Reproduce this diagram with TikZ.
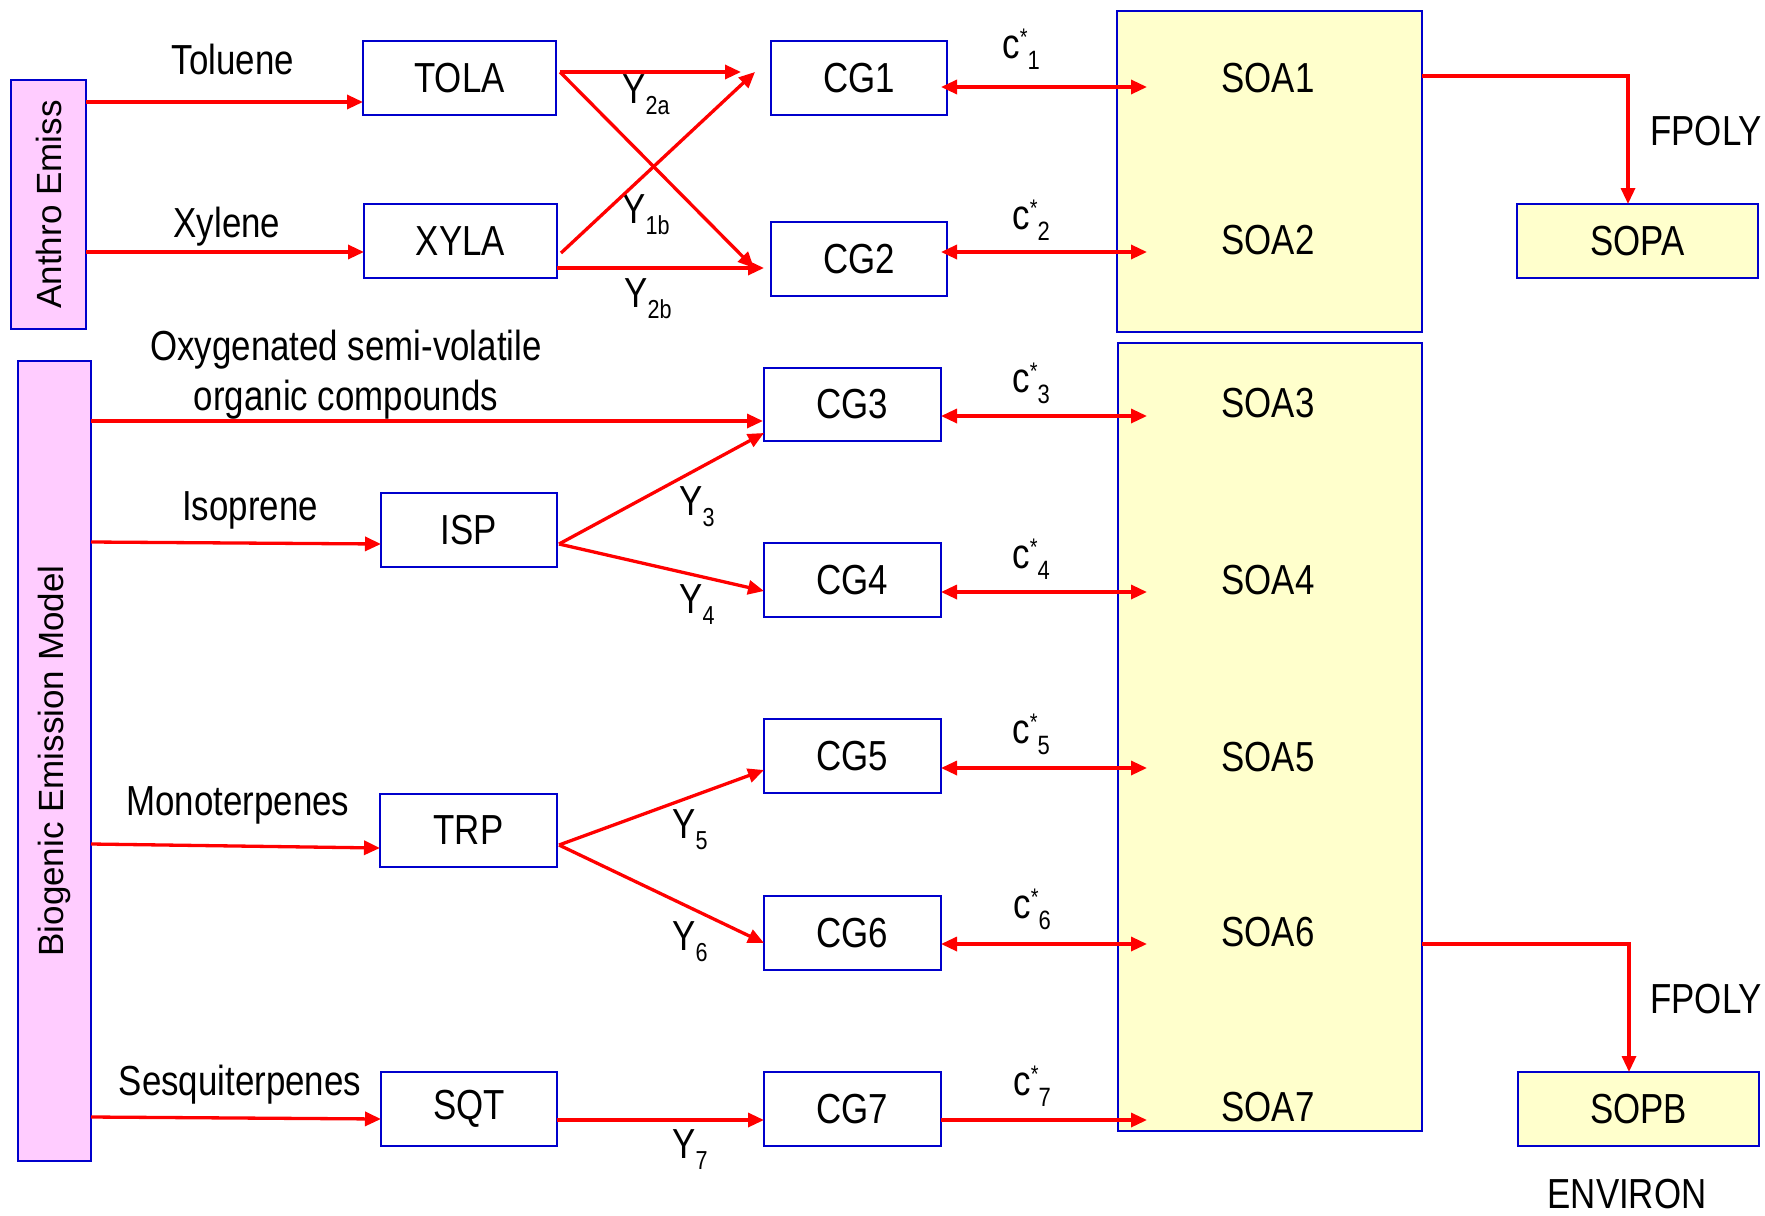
\documentclass[tikz,border=0pt]{standalone}
\usepackage{fontspec}
\setmainfont[FakeStretch=0.83]{Liberation Sans}
\newfontfamily\vfont{Liberation Sans}
\usetikzlibrary{arrows.meta}
\definecolor{bblue}{RGB}{0,0,204}
\definecolor{rred}{RGB}{255,0,0}
\definecolor{pinkf}{RGB}{255,204,255}
\definecolor{yelf}{RGB}{255,255,204}
\newcommand{\subsz}{\fontsize{13}{14}\selectfont}
\newcommand{\csub}{\fontsize{13.25}{14}\selectfont}
\newcommand{\starsz}{\fontsize{12}{13}\selectfont}
\newcommand{\Ylab}[1]{Y\raisebox{-5.5pt}{\subsz #1}}
\newcommand{\Clab}[1]{c\raisebox{6.25pt}{\starsz *}\raisebox{-5.5pt}{\csub #1}}
\begin{document}
\begin{tikzpicture}[x=0.5pt,y=-0.5pt,
  box/.style={draw=bblue, line width=1.4pt, inner sep=0pt, outer sep=0pt, font=\fontsize{21}{25}\selectfont},
  lab/.style={inner sep=0pt, font=\fontsize{21}{25}\selectfont},
  vlab/.style={inner sep=0pt, rotate=90, font=\vfont\fontsize{17.5}{20}\selectfont},
  arr/.style={draw=rred, line width=1.65pt, -{Triangle[length=8pt,width=7pt]}},
  darr/.style={draw=rred, line width=1.65pt, {Triangle[length=8pt,width=7pt]}-{Triangle[length=8pt,width=7pt]}}]
\useasboundingbox (0,0) rectangle (1765,1215);

% emission boxes
\node[box, fill=pinkf, minimum width=37.5pt, minimum height=124.5pt] (anthro) at (48.5,204.5) {};
\node[vlab] (anthrot) at (anthro.center) {Anthro Emiss};
\node[box, fill=pinkf, minimum width=36.5pt, minimum height=400pt] (bio) at (54.5,761) {};
\node[vlab] (biot) at (bio.center) {Biogenic Emission Model};

% precursor boxes
\node[box, minimum width=96.5pt, minimum height=37pt] (TOLA) at (459.5,78) {TOLA};
\node[box, minimum width=96.5pt, minimum height=37pt] (XYLA) at (460.5,241) {XYLA};
\node[box, minimum width=88pt, minimum height=37pt] (ISP) at (469,530) {ISP};
\node[box, minimum width=88.5pt, minimum height=36.5pt] (TRP) at (468.5,830.5) {TRP};
\node[box, minimum width=88pt, minimum height=37pt] (SQT) at (469,1109) {SQT};

% CG boxes
\node[box, minimum width=88pt, minimum height=37pt] (CG1) at (859,78) {CG1};
\node[box, minimum width=88pt, minimum height=37pt] (CG2) at (859,259) {CG2};
\node[box, minimum width=88.5pt, minimum height=36.5pt] (CG3) at (852.5,404.5) {CG3};
\node[box, minimum width=88.5pt, minimum height=37pt] (CG4) at (852.5,580) {CG4};
\node[box, minimum width=88.5pt, minimum height=37pt] (CG5) at (852.5,756) {CG5};
\node[box, minimum width=88.5pt, minimum height=37pt] (CG6) at (852.5,933) {CG6};
\node[box, minimum width=88.5pt, minimum height=37pt] (CG7) at (852.5,1109) {CG7};

% SOA boxes
\node[box, line width=1.1pt, fill=yelf, minimum width=152.5pt, minimum height=160.5pt] (SOAtop) at (1269.5,171.5) {};
\node[box, line width=1.1pt, fill=yelf, minimum width=152pt, minimum height=394pt] (SOAbot) at (1270,737) {};
\node[box, fill=yelf, minimum width=120.5pt, minimum height=37pt] (SOPA) at (1637.5,241) {SOPA};
\node[box, fill=yelf, minimum width=120.5pt, minimum height=37pt] (SOPB) at (1638.5,1109) {SOPB};

\node[lab] (soa1) at (1268,78) {SOA1};
\node[lab] (soa2) at (1268,240) {SOA2};
\node[lab] (soa3) at (1268,403) {SOA3};
\node[lab] (soa4) at (1268,580) {SOA4};
\node[lab] (soa5) at (1268,757) {SOA5};
\node[lab] (soa6) at (1268,932) {SOA6};
\node[lab] (soa7) at (1268,1107) {SOA7};

% text labels
\node[lab, anchor=base] (ltol) at (233,74) {Toluene};
\node[lab, anchor=base] (lxyl) at (227,237) {Xylene};
\node[lab, anchor=base] (losv1) at (346,360) {Oxygenated semi-volatile};
\node[lab, anchor=base] (losv2) at (346,410) {organic compounds};
\node[lab, anchor=base] (liso) at (250,520) {Isoprene};
\node[lab, anchor=base] (lmon) at (238,815) {Monoterpenes};
\node[lab, anchor=base] (lses) at (240,1095) {Sesquiterpenes};
\node[lab, anchor=base west] (fp1) at (1650,145) {FPOLY};
\node[lab, anchor=base west] (fp2) at (1650,1013) {FPOLY};
\node[lab, anchor=base] (env) at (1627,1208) {ENVIRON};

% yields
\node[lab, anchor=base west] (y2a) at (622,103) {\Ylab{2a}};
\node[lab, anchor=base west] (y1b) at (622,223) {\Ylab{1b}};
\node[lab, anchor=base west] (y2b) at (624,307) {\Ylab{2b}};
\node[lab, anchor=base west] (y3) at (679,515) {\Ylab{3}};
\node[lab, anchor=base west] (y4) at (679,613) {\Ylab{4}};
\node[lab, anchor=base west] (y5) at (672,838) {\Ylab{5}};
\node[lab, anchor=base west] (y6) at (672,950) {\Ylab{6}};
\node[lab, anchor=base west] (y7) at (672,1158) {\Ylab{7}};

% c* labels
\node[lab, anchor=base west] (c1) at (1002,58) {\Clab{1}};
\node[lab, anchor=base west] (c2) at (1012,229) {\Clab{2}};
\node[lab, anchor=base west] (c3) at (1012,392) {\Clab{3}};
\node[lab, anchor=base west] (c4) at (1012,568) {\Clab{4}};
\node[lab, anchor=base west] (c5) at (1012,743) {\Clab{5}};
\node[lab, anchor=base west] (c6) at (1013,918) {\Clab{6}};
\node[lab, anchor=base west] (c7) at (1013,1095) {\Clab{7}};

% anthropogenic arrows
\draw[arr] ([shift={(0,-102.5)}]anthro.east) -- ([shift={(0,24)}]TOLA.west);
\draw[arr] ([shift={(0,47.5)}]anthro.east) -- ([shift={(0,11)}]XYLA.west);
\draw[arr] ([shift={(4,-6)}]TOLA.east) -- ([shift={(-30,-6)}]CG1.west);
\draw[arr] ([shift={(4,-6)}]TOLA.east) -- ([shift={(-17,9)}]CG2.west);
\draw[arr] ([shift={(4,12)}]XYLA.east) -- ([shift={(-16,-6)}]CG1.west);
\draw[arr] ([shift={(0,27)}]XYLA.east) -- ([shift={(-7,9)}]CG2.west);

% biogenic arrows
\draw[arr] ([shift={(0,-340)}]bio.east) -- ([shift={(-1,16.5)}]CG3.west);
\draw[arr] ([shift={(0,-219)}]bio.east) -- ([shift={(0,14)}]ISP.west);
\draw[arr] ([shift={(2,14)}]ISP.east) -- ([shift={(0,28.5)}]CG3.west);
\draw[arr] ([shift={(2,14)}]ISP.east) -- ([shift={(0,11)}]CG4.west);
\draw[arr] ([shift={(0,83)}]bio.east) -- ([shift={(0,17.5)}]TRP.west);
\draw[arr] ([shift={(2,14.5)}]TRP.east) -- ([shift={(0,14)}]CG5.west);
\draw[arr] ([shift={(2,14.5)}]TRP.east) -- ([shift={(0,10)}]CG6.west);
\draw[arr] ([shift={(0,356)}]bio.east) -- ([shift={(0,10)}]SQT.west);
\draw[arr] ([shift={(0,11)}]SQT.east) -- ([shift={(0,11)}]CG7.west);

% partitioning arrows
\coordinate (t1) at (1147,87);
\coordinate (t2) at (1147,252);
\coordinate (t3) at (1147,416);
\coordinate (t4) at (1147,592);
\coordinate (t5) at (1147,768);
\coordinate (t6) at (1147,944);
\coordinate (t7) at (1147,1120);
\draw[darr] ([shift={(-6,9)}]CG1.east) -- (t1);
\draw[darr] ([shift={(-6,-7)}]CG2.east) -- (t2);
\draw[darr] ([shift={(0,11.5)}]CG3.east) -- (t3);
\draw[darr] ([shift={(0,12)}]CG4.east) -- (t4);
\draw[darr] ([shift={(0,12)}]CG5.east) -- (t5);
\draw[darr] ([shift={(0,11)}]CG6.east) -- (t6);
\draw[arr] ([shift={(0,11)}]CG7.east) -- (t7);

% FPOLY arrows
\coordinate (k1) at (1628,76);
\coordinate (k2) at (1629,944);
\draw[arr] (SOAtop.east |- k1) -- (k1) -- (k1 |- SOPA.north);
\draw[arr] (SOAbot.east |- k2) -- (k2) -- (k2 |- SOPB.north);
\end{tikzpicture}
\end{document}
